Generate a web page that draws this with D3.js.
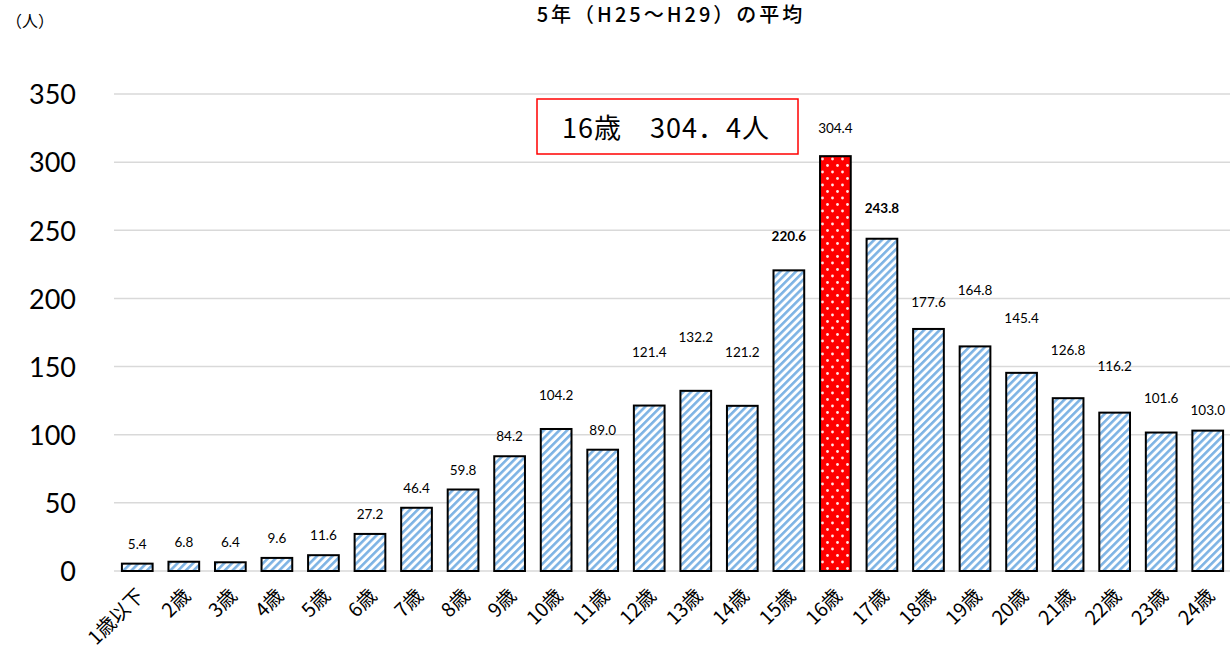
<!DOCTYPE html>
<html>
<head>
<meta charset="utf-8">
<script src="https://cdn.jsdelivr.net/npm/d3@7"></script>
<style>
  body { margin: 0; background: #fff; }
  svg { display: block; }
</style>
</head>
<body>
<svg></svg>
<script>
// ages and 5-year averages
var ages = ["1歳以下", "2歳", "3歳", "4歳", "5歳", "6歳", "7歳", "8歳", "9歳", "10歳", "11歳", "12歳",
            "13歳", "14歳", "15歳", "16歳", "17歳", "18歳", "19歳", "20歳", "21歳", "22歳", "23歳", "24歳"];
var averages = [5.4, 6.8, 6.4, 9.6, 11.6, 27.2, 46.4, 59.8, 84.2, 104.2, 89.0, 121.4,
                132.2, 121.2, 220.6, 304.4, 243.8, 177.6, 164.8, 145.4, 126.8, 116.2, 101.6, 103.0];
var yTicks = [0, 50, 100, 150, 200, 250, 300, 350];
var peakAge = "16歳";
var boldAges = ["15歳", "17歳"];
var title = "5年（H25～H29）の平均";
var unitLabel = "（人）";
var callout = "16歳　304．4人";

var screen = {width: 1230, height: 649};
var plot = {left: 114, right: 1231, top: 94, bottom: 571};

// pixel lift of each value label above its bar top (hand placed in the original)
var labelLift = [15, 15, 15, 15, 15, 15, 15, 15, 15, 29, 15, 49,
                 49, 49, 29, 23, 26, 22, 51, 50, 43, 42, 30, 16];

var svg = d3.select("svg")
    .attr("width", screen.width)
    .attr("height", screen.height);

var defs = svg.append("defs");

var stripes = defs.append("pattern")
    .attr("id", "stripes")
    .attr("patternUnits", "userSpaceOnUse")
    .attr("width", 5.5)
    .attr("height", 5.5)
    .attr("patternTransform", "rotate(45)");
stripes.append("rect").attr("width", 5.5).attr("height", 5.5).attr("fill", "#ffffff");
stripes.append("rect").attr("width", 2.6).attr("height", 5.5).attr("fill", "#7db3e4");

var dots = defs.append("pattern")
    .attr("id", "dots")
    .attr("patternUnits", "userSpaceOnUse")
    .attr("width", 10)
    .attr("height", 13);
dots.append("rect").attr("width", 10).attr("height", 13).attr("fill", "#ff0000");
dots.append("circle").attr("cx", 2.5).attr("cy", 3).attr("r", 1.4).attr("fill", "#ffe6e6");
dots.append("circle").attr("cx", 7.5).attr("cy", 9.5).attr("r", 1.4).attr("fill", "#ffe6e6");

var xscale = d3.scaleBand()
    .domain(ages)
    .range([plot.left, plot.right])
    .paddingInner(0.34)
    .paddingOuter(0.17);

var yscale = d3.scaleLinear()
    .domain([0, 350])
    .range([plot.bottom, plot.top]);

// gridlines
svg.append("g")
    .selectAll("line")
    .data(yTicks)
    .enter()
    .append("line")
    .attr("x1", plot.left)
    .attr("x2", screen.width)
    .attr("y1", function(d) { return yscale(d); })
    .attr("y2", function(d) { return yscale(d); })
    .attr("stroke", "#d9d9d9")
    .attr("stroke-width", 1.5);

// y axis labels
var yAxis = d3.axisLeft(yscale).tickValues(yTicks).tickSize(0).tickPadding(0);
var yg = svg.append("g")
    .attr("transform", "translate(76,0)")
    .call(yAxis);
yg.select(".domain").remove();
yg.selectAll("text")
    .attr("font-family", "Lato, 'Open Sans', sans-serif")
    .attr("font-size", 27)
    .attr("fill", "#000")
    .attr("dy", "0.36em");

// bars
svg.append("g")
    .selectAll("rect")
    .data(averages)
    .enter()
    .append("rect")
    .attr("x", function(d, i) { return xscale(ages[i]); })
    .attr("y", function(d) { return yscale(d); })
    .attr("width", xscale.bandwidth())
    .attr("height", function(d) { return yscale(0) - yscale(d); })
    .attr("fill", function(d, i) { return ages[i] == peakAge ? "url(#dots)" : "url(#stripes)"; })
    .attr("stroke", "#000")
    .attr("stroke-width", 2);

// value labels
svg.append("g")
    .selectAll("text")
    .data(averages)
    .enter()
    .append("text")
    .attr("x", function(d, i) { return xscale(ages[i]) + xscale.bandwidth() / 2; })
    .attr("y", function(d, i) { return yscale(d) - labelLift[i]; })
    .attr("text-anchor", "middle")
    .attr("font-family", "Lato, 'Open Sans', sans-serif")
    .attr("font-size", 13.5)
    .attr("font-weight", function(d, i) { return boldAges.indexOf(ages[i]) >= 0 ? "bold" : "normal"; })
    .attr("fill", "#000")
    .text(function(d) { return d.toFixed(1); });

// x axis labels, rotated
var xAxis = d3.axisBottom(xscale).tickSize(0).tickPadding(0);
var xg = svg.append("g")
    .attr("transform", "translate(0," + plot.bottom + ")")
    .call(xAxis);
xg.select(".domain").remove();
xg.selectAll("text")
    .attr("font-family", "'Noto Sans CJK JP', sans-serif")
    .attr("font-size", 19.5)
    .attr("fill", "#000")
    .attr("text-anchor", "end")
    .attr("dy", null)
    .attr("y", 0)
    .attr("transform", "translate(8,26) rotate(-45)");

// title and unit
svg.append("text")
    .attr("x", 671)
    .attr("y", 22)
    .attr("text-anchor", "middle")
    .attr("font-family", "'Noto Sans CJK JP', sans-serif")
    .attr("font-size", 20)
    .attr("font-weight", 500)
    .attr("letter-spacing", 3)
    .attr("fill", "#000")
    .text(title);

svg.append("text")
    .attr("x", 6)
    .attr("y", 27)
    .attr("font-family", "'Noto Sans CJK JP', sans-serif")
    .attr("font-size", 16)
    .attr("fill", "#000")
    .text(unitLabel);

// callout box
svg.append("rect")
    .attr("x", 537)
    .attr("y", 99)
    .attr("width", 261)
    .attr("height", 55)
    .attr("fill", "#fff")
    .attr("stroke", "#ff0000")
    .attr("stroke-width", 1.5);

svg.append("text")
    .attr("x", 666)
    .attr("y", 138)
    .attr("text-anchor", "middle")
    .attr("font-family", "'Noto Sans CJK JP', sans-serif")
    .attr("font-size", 27)
    .attr("letter-spacing", 1)
    .attr("fill", "#000")
    .text(callout);
</script>
</body>
</html>
